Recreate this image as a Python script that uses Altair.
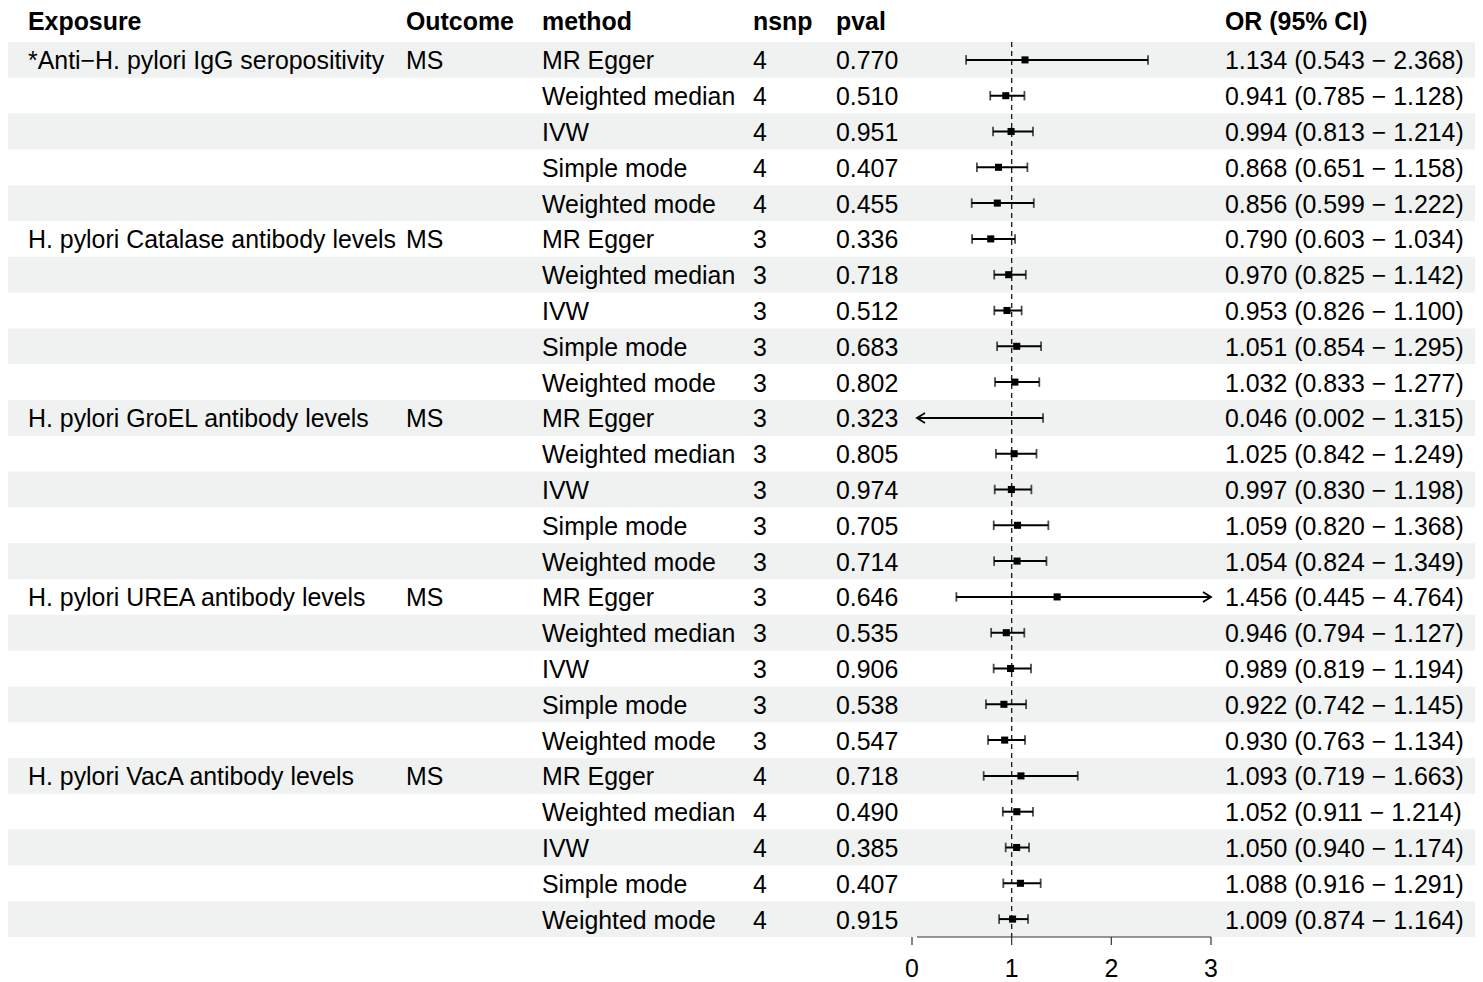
import altair as alt
import pandas as pd

exposure = ["*Anti−H. pylori IgG seropositivity", "", "", "", "",
            "H. pylori Catalase antibody levels", "", "", "", "",
            "H. pylori GroEL antibody levels", "", "", "", "",
            "H. pylori UREA antibody levels", "", "", "", "",
            "H. pylori VacA antibody levels", "", "", "", ""]
outcome = ["MS", "", "", "", ""] * 5
method = ["MR Egger", "Weighted median", "IVW", "Simple mode", "Weighted mode"] * 5
nsnp = [4] * 5 + [3] * 15 + [4] * 5
pval = ["0.770", "0.510", "0.951", "0.407", "0.455",
        "0.336", "0.718", "0.512", "0.683", "0.802",
        "0.323", "0.805", "0.974", "0.705", "0.714",
        "0.646", "0.535", "0.906", "0.538", "0.547",
        "0.718", "0.490", "0.385", "0.407", "0.915"]
or_est = [1.134, 0.941, 0.994, 0.868, 0.856,
          0.790, 0.970, 0.953, 1.051, 1.032,
          0.046, 1.025, 0.997, 1.059, 1.054,
          1.456, 0.946, 0.989, 0.922, 0.930,
          1.093, 1.052, 1.050, 1.088, 1.009]
or_lo = [0.543, 0.785, 0.813, 0.651, 0.599,
         0.603, 0.825, 0.826, 0.854, 0.833,
         0.002, 0.842, 0.830, 0.820, 0.824,
         0.445, 0.794, 0.819, 0.742, 0.763,
         0.719, 0.911, 0.940, 0.916, 0.874]
or_hi = [2.368, 1.128, 1.214, 1.158, 1.222,
         1.034, 1.142, 1.100, 1.295, 1.277,
         1.315, 1.249, 1.198, 1.368, 1.349,
         4.764, 1.127, 1.194, 1.145, 1.134,
         1.663, 1.214, 1.174, 1.291, 1.164]
headers = ["Exposure", "Outcome", "method", "nsnp", "pval", "OR (95% CI)"]
x_ticks = [0, 1, 2, 3]
x_lim = [0.05, 3]

FONT = "Liberation Sans"
FS = 24.9
W, H = 1467, 923
PAD_TOP = 6
col_x = [20, 398, 534, 745, 828, 1217]

n = len(method)
rows = []
for i in range(n):
    rows.append(dict(
        row=i, c=i + 0.5, top=i, bot=i + 1,
        exposure=exposure[i], outcome=outcome[i], method=method[i],
        nsnp=str(nsnp[i]), pval=pval[i],
        ci=f"{or_est[i]:.3f} ({or_lo[i]:.3f} − {or_hi[i]:.3f})",
        est=or_est[i], lo=or_lo[i], hi=or_hi[i],
        seg_lo=max(or_lo[i], x_lim[0]), seg_hi=min(or_hi[i], x_lim[1]),
        shaded=(i % 2 == 0),
    ))
df = pd.DataFrame(rows)

yscale = alt.Scale(domain=[0, 25], range=[28, 923], nice=False, zero=False)
xscale = alt.Scale(domain=[0, 3], range=[904, 1203], nice=False, zero=False)

base = alt.Chart(df)

bands = base.transform_filter("datum.shaded").mark_rect(color="#eff2f1").encode(
    x=alt.value(0), x2=alt.value(W),
    y=alt.Y("top:Q", scale=yscale, axis=None), y2="bot:Q")

text_layers = []
for field, xpos in zip(["exposure", "outcome", "method", "nsnp", "pval", "ci"], col_x):
    text_layers.append(base.mark_text(
        align="left", baseline="alphabetic", dy=9.5, font=FONT, fontSize=FS, color="black"
    ).encode(x=alt.value(xpos), y=alt.Y("c:Q", scale=yscale, axis=None), text=f"{field}:N"))

hdr_df = pd.DataFrame({"h": headers, "hx": col_x})
hdr_layers = []
for h, xpos in zip(headers, col_x):
    hdr_layers.append(alt.Chart(hdr_df).transform_filter(alt.datum.h == h).mark_text(
        align="left", baseline="alphabetic", font=FONT, fontSize=FS, fontWeight="bold", color="black"
    ).encode(x=alt.value(xpos), y=alt.value(16.3), text="h:N"))

ref = alt.Chart(pd.DataFrame({"v": [1], "y0": [0], "y1": [25]})).mark_rule(
    color="#222222", strokeDash=[5, 4], strokeWidth=1.4).encode(
    x=alt.X("v:Q", scale=xscale, axis=None),
    y=alt.Y("y0:Q", scale=yscale, axis=None), y2="y1:Q")

segs = base.mark_rule(color="black", strokeWidth=2).encode(
    x=alt.X("seg_lo:Q", scale=xscale, axis=None),
    x2="seg_hi:Q",
    y=alt.Y("c:Q", scale=yscale, axis=None))

cap_lo = base.transform_filter(f"datum.lo >= {x_lim[0]}").mark_tick(
    orient="vertical", size=9.5, thickness=1.8, color="black").encode(
    x=alt.X("lo:Q", scale=xscale, axis=None), y=alt.Y("c:Q", scale=yscale, axis=None))
cap_hi = base.transform_filter(f"datum.hi <= {x_lim[1]}").mark_tick(
    orient="vertical", size=9.5, thickness=1.8, color="black").encode(
    x=alt.X("hi:Q", scale=xscale, axis=None), y=alt.Y("c:Q", scale=yscale, axis=None))

arrow_l = base.transform_filter(f"datum.lo < {x_lim[0]}").mark_point(
    shape="M1.6,-1L0,0L1.6,1", size=100, filled=False, color="black", strokeWidth=1.8, opacity=1).encode(
    x=alt.X("seg_lo:Q", scale=xscale, axis=None), y=alt.Y("c:Q", scale=yscale, axis=None))
arrow_r = base.transform_filter(f"datum.hi > {x_lim[1]}").mark_point(
    shape="M-1.6,-1L0,0L-1.6,1", size=100, filled=False, color="black", strokeWidth=1.8, opacity=1).encode(
    x=alt.X("seg_hi:Q", scale=xscale, axis=None), y=alt.Y("c:Q", scale=yscale, axis=None))

pts = base.transform_filter(f"datum.est >= {x_lim[0]} && datum.est <= {x_lim[1]}").mark_point(
    shape="square", filled=True, size=50, color="black", opacity=1).encode(
    x=alt.X("est:Q", scale=xscale, axis=None), y=alt.Y("c:Q", scale=yscale, axis=None))

axis_line = alt.Chart(pd.DataFrame({"a": [x_lim[0]], "b": [x_lim[1]], "y": [25]})).mark_rule(
    color="#333333", strokeWidth=1.2).encode(
    x=alt.X("a:Q", scale=xscale, axis=None), x2="b:Q",
    y=alt.Y("y:Q", scale=yscale, axis=None))

tick_df = pd.DataFrame({"t": x_ticks, "lab": [str(t) for t in x_ticks], "y0": [25] * 4,
                        "y1": [25 + 8 / 35.8] * 4})
tick_rules = alt.Chart(tick_df).mark_rule(color="#333333", strokeWidth=1.2).encode(
    x=alt.X("t:Q", scale=xscale, axis=None),
    y=alt.Y("y0:Q", scale=yscale, axis=None), y2="y1:Q")
tick_labels = alt.Chart(tick_df).mark_text(
    align="center", baseline="alphabetic", dy=40, font=FONT, fontSize=FS, color="black").encode(
    x=alt.X("t:Q", scale=xscale, axis=None),
    y=alt.Y("y0:Q", scale=yscale, axis=None), text="lab:N")

chart = alt.layer(
    bands, *text_layers, *hdr_layers, ref, segs, cap_lo, cap_hi, arrow_l, arrow_r, pts,
    axis_line, tick_rules, tick_labels
).properties(
    width=W, height=H, autosize="none",
    padding={"left": 0, "top": PAD_TOP, "right": 0, "bottom": 44}
).configure_view(stroke=None)

chart.save("out.html", embed_options={"renderer": "svg", "actions": False})
